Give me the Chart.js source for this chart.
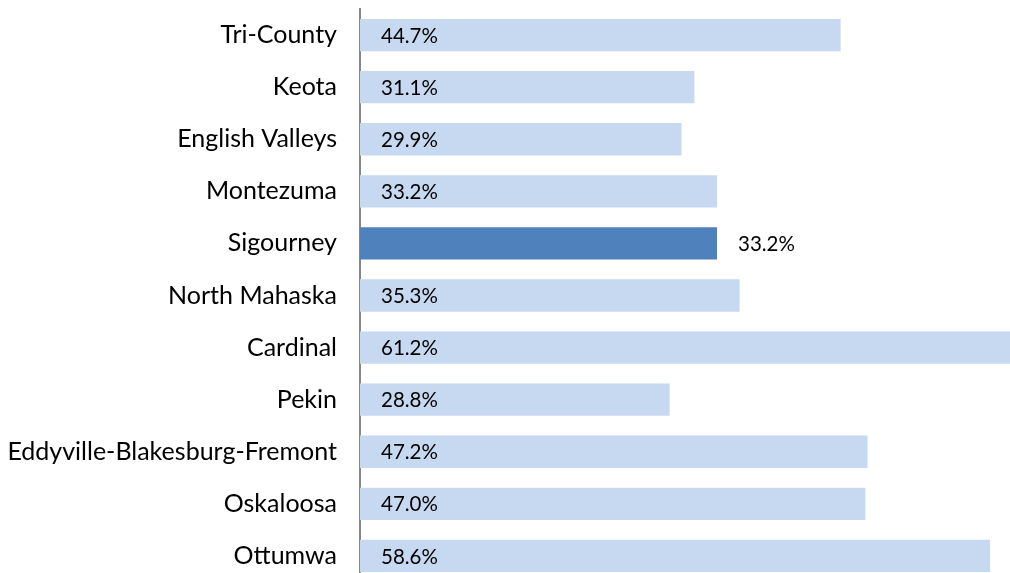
<!DOCTYPE html>
<html>
<head>
<meta charset="utf-8">
<script src="https://cdn.jsdelivr.net/npm/chart.js@4"></script>
<style>
  html, body { margin: 0; padding: 0; background: #fff; overflow: hidden; }
  #wrap { width: 1010px; height: 573px; overflow: hidden; }
</style>
</head>
<body>
<div id="wrap"><canvas id="bars" width="1010" height="582"></canvas></div>
<script>
const districts = ['Tri-County', 'Keota', 'English Valleys', 'Montezuma', 'Sigourney', 'North Mahaska',
    'Cardinal', 'Pekin', 'Eddyville-Blakesburg-Fremont', 'Oskaloosa', 'Ottumwa']
const percents = [44.7, 31.1, 29.9, 33.2, 33.2, 35.3, 61.2, 28.8, 47.2, 47.0, 58.6]
const highlight = 'Sigourney'

const barColors = districts.map(d => d === highlight ? '#4F81BD' : '#C6D9F1')

// draws the percent text, inside the bar except for the highlighted one
const valueLabels = {
    id: 'valueLabels',
    afterDatasetsDraw(chart) {
        const ctx = chart.ctx
        const meta = chart.getDatasetMeta(0)
        ctx.save()
        ctx.font = '20.5px Lato'
        ctx.fillStyle = '#000'
        ctx.textBaseline = 'middle'
        ctx.textAlign = 'left'
        meta.data.forEach((bar, i) => {
            const txt = percents[i].toFixed(1) + '%'
            const x = districts[i] === highlight ? bar.x + 21 : bar.base + 21
            ctx.fillText(txt, x, bar.y + 1)
        })
        ctx.restore()
    }
}

const config = {
    type: 'bar',
    data: {
        labels: districts,
        datasets: [{
            data: percents,
            backgroundColor: barColors,
            barPercentage: 0.62,
            categoryPercentage: 1
        }]
    },
    options: {
        indexAxis: 'y',
        responsive: false,
        animation: false,
        layout: { padding: { top: 9, right: 0, bottom: 0, left: 0 } },
        plugins: { legend: { display: false }, tooltip: { enabled: false } },
        scales: {
            x: { display: false, min: 0, max: 60.45 },
            y: {
                grid: { display: false, drawTicks: false },
                border: { display: true, color: '#868686', width: 2 },
                ticks: { color: '#000', padding: 23, font: { family: 'Lato', size: 25 } },
                afterFit(scale) {
                    scale.width = 360
                    scale.paddingTop = 0
                    scale.paddingBottom = 0
                }
            }
        }
    },
    plugins: [valueLabels]
}

new Chart(document.getElementById('bars'), config)
</script>
</body>
</html>
